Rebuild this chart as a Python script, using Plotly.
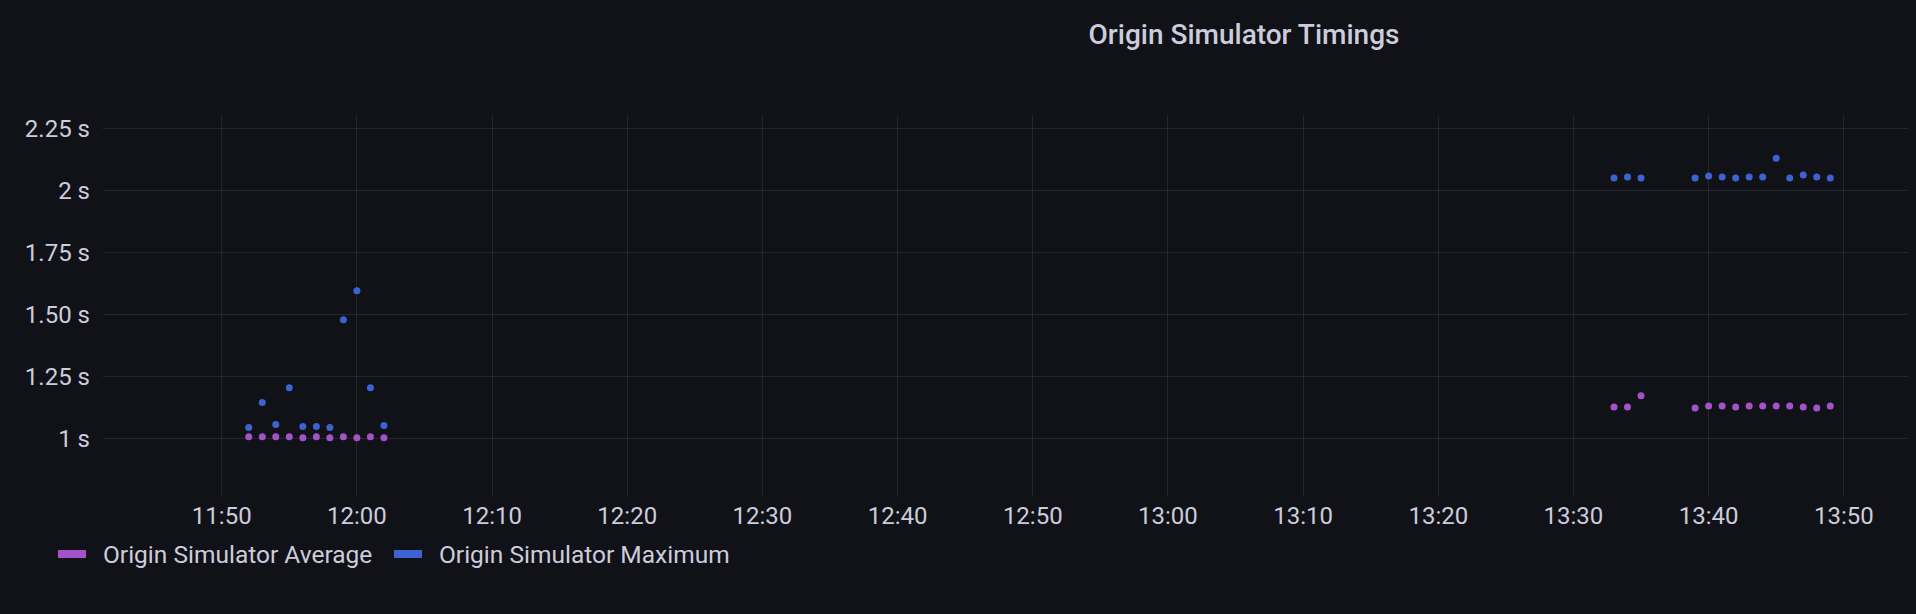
import plotly.graph_objects as go

DAY = "2024-05-14 "

# Left cluster (11:52 - 12:02), right cluster (13:33-13:35, 13:39-13:49)
times = [
    "11:52", "11:53", "11:54", "11:55", "11:56", "11:57", "11:58", "11:59", "12:00", "12:01", "12:02",
    "13:33", "13:34", "13:35",
    "13:39", "13:40", "13:41", "13:42", "13:43", "13:44", "13:45", "13:46", "13:47", "13:48", "13:49",
]
avg_values = [
    1.006, 1.006, 1.006, 1.006, 1.002, 1.006, 1.002, 1.006, 1.002, 1.006, 1.002,
    1.126, 1.126, 1.171,
    1.122, 1.130, 1.130, 1.126, 1.130, 1.130, 1.130, 1.130, 1.126, 1.122, 1.130,
]
max_values = [
    1.043, 1.144, 1.055, 1.204, 1.047, 1.047, 1.043, 1.478, 1.595, 1.204, 1.051,
    2.050, 2.054, 2.050,
    2.050, 2.058, 2.054, 2.050, 2.054, 2.054, 2.130, 2.050, 2.062, 2.054, 2.050,
]
series_names = ["Origin Simulator Average", "Origin Simulator Maximum"]
series_colors = ["#A352CC", "#3B63D1"]

y_tickvals = [1, 1.25, 1.5, 1.75, 2, 2.25]
y_ticktext = ["1 s", "1.25 s", "1.50 s", "1.75 s", "2 s", "2.25 s"]

x = [DAY + t for t in times]

BG = "#111217"
TEXT = "#CCCCDC"
GRID = "rgba(204,204,220,0.11)"

W, H = 1916, 614
L, R, T, B = 103, 8, 116, 118
PW, PH = W - L - R, H - T - B

legend_ids = ["legend", "legend2"]
legend_px = [53, 389]

fig = go.Figure()
for name, vals, col, lg in zip(series_names, [avg_values, max_values], series_colors, legend_ids):
    fig.add_trace(go.Scatter(
        x=x, y=vals, mode="markers", name=name, showlegend=False,
        marker=dict(size=7, color=col, line=dict(width=0)),
    ))
    # legend entry (bar-like swatch)
    fig.add_trace(go.Scatter(
        x=[None], y=[None], mode="lines", name=name, showlegend=True, legend=lg,
        line=dict(color=col, width=8, dash="28px,200px"),
    ))

legend_common = dict(
    orientation="h",
    y=(H - B - 554) / PH, yanchor="middle",
    xanchor="left",
    font=dict(size=24.5, color=TEXT),
    bgcolor="rgba(0,0,0,0)",
    itemwidth=40,
)

fig.update_layout(
    width=W, height=H,
    paper_bgcolor=BG, plot_bgcolor=BG,
    margin=dict(l=L, r=R, t=T, b=B),
    font=dict(family="Roboto", color=TEXT, size=24),
    title=dict(
        text="Origin Simulator Timings",
        x=1244 / W, xanchor="center", xref="container",
        y=1 - 34 / H, yanchor="middle", yref="container",
        font=dict(family="Roboto", size=28, color=TEXT, weight=500),
    ),
    showlegend=True,
    legend=dict(x=(legend_px[0] - L) / PW, **legend_common),
    legend2=dict(x=(legend_px[1] - L) / PW, **legend_common),
    xaxis=dict(
        type="date",
        range=[DAY + "11:41:13", DAY + "13:54:45"],
        dtick=600000,
        tick0=DAY + "11:50",
        tickformat="%H:%M",
        showgrid=True, gridcolor=GRID, gridwidth=1,
        zeroline=False, showline=False,
        ticks="", ticklabelstandoff=3,
        tickfont=dict(size=24, color=TEXT),
    ),
    yaxis=dict(
        range=[0.767, 2.30],
        tickvals=y_tickvals, ticktext=y_ticktext,
        showgrid=True, gridcolor=GRID, gridwidth=1,
        zeroline=False, showline=False,
        ticks="", ticklabelstandoff=12,
        tickfont=dict(size=24, color=TEXT),
    ),
)

fig.write_html(
    "out.html",
    config={"displayModeBar": False},
    post_script="document.body.style.margin='0';document.body.style.background='#111217';",
)
